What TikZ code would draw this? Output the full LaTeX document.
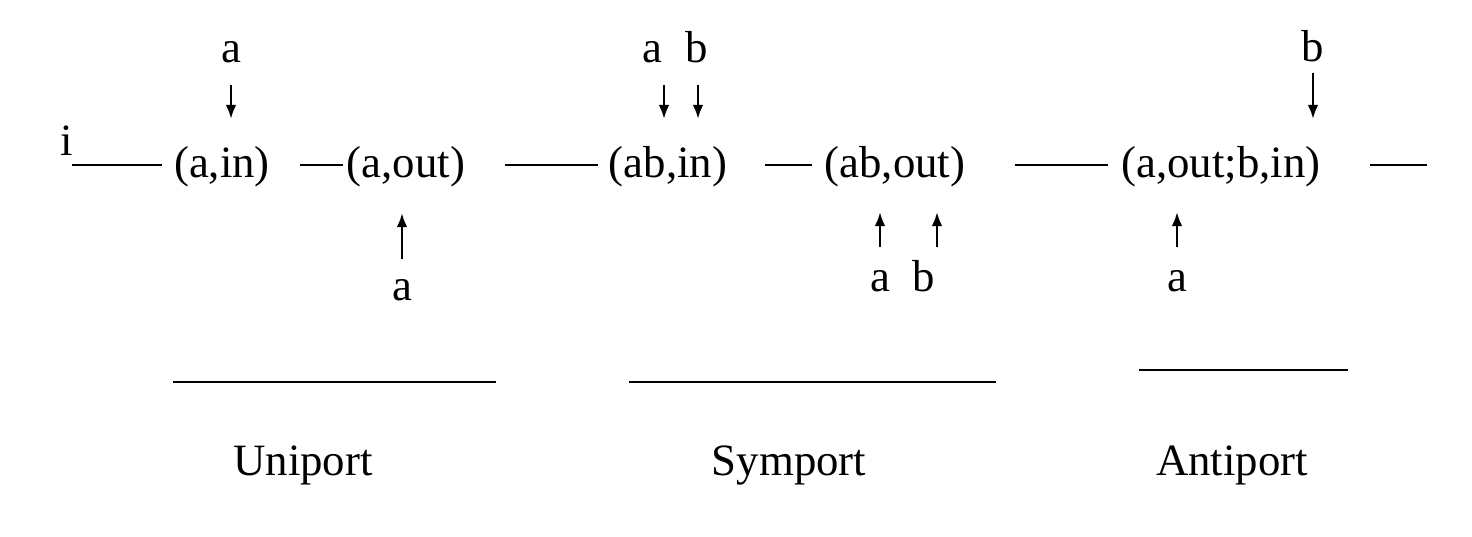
\documentclass[tikz,border=0pt]{standalone}
\usepackage{fontspec}
\setmainfont{Liberation Serif}
\usetikzlibrary{arrows.meta}
\begin{document}
\begin{tikzpicture}[x=0.02cm,y=-0.02cm,
  font=\fontsize{25.5}{30}\selectfont,
  txt/.style={anchor=base,inner sep=0pt},
  wire/.style={line width=1.1pt},
  flow/.style={line width=1.4pt,-{Latex[length=8pt,width=6pt]}}]
  \useasboundingbox (0,0) rectangle (1472,537);
  % the chain of states
  \node[txt] (i) at (67,155) {i};
  \node[txt] (ain) at (222,177) {(a,in)};
  \node[txt] (aout) at (406,177) {(a,out)};
  \node[txt] (abin) at (668,177) {(ab,in)};
  \node[txt] (about) at (895,177) {(ab,out)};
  \node[txt] (anti) at (1221,177) {(a,out;b,in)};
  \coordinate (w1a) at (72,165);   \coordinate (w1b) at (162,165);
  \coordinate (w2a) at (300,165);  \coordinate (w2b) at (343,165);
  \coordinate (w3a) at (505,165);  \coordinate (w3b) at (598,165);
  \coordinate (w4a) at (765,165);  \coordinate (w4b) at (812,165);
  \coordinate (w5a) at (1015,165); \coordinate (w5b) at (1108,165);
  \coordinate (w6a) at (1370,165); \coordinate (w6b) at (1427,165);
  \foreach \n in {1,...,6}
    \draw[wire] (w\n a) -- (w\n b);
  % uniport
  \node[txt] (ua) at (231,63) {a};
  \coordinate (ua1) at (231,85);  \coordinate (ua2) at (231,119);
  \draw[flow] (ua1) -- (ua2);
  \node[txt] (ub) at (402,300) {a};
  \coordinate (ub1) at (402,259); \coordinate (ub2) at (402,213);
  \draw[flow] (ub1) -- (ub2);
  % symport
  \node[txt] (sa) at (652,63) {a};
  \node[txt] (sb) at (697,63) {b};
  \coordinate (sa1) at (664,85);  \coordinate (sa2) at (664,119);
  \coordinate (sb1) at (698,85);  \coordinate (sb2) at (698,119);
  \draw[flow] (sa1) -- (sa2);
  \draw[flow] (sb1) -- (sb2);
  \node[txt] (sc) at (880,292) {a};
  \node[txt] (sd) at (924,292) {b};
  \coordinate (sc1) at (880,247); \coordinate (sc2) at (880,212);
  \coordinate (sd1) at (937,247); \coordinate (sd2) at (937,212);
  \draw[flow] (sc1) -- (sc2);
  \draw[flow] (sd1) -- (sd2);
  % antiport
  \node[txt] (tb) at (1313,62) {b};
  \coordinate (tb1) at (1313,73);  \coordinate (tb2) at (1313,119);
  \draw[flow] (tb1) -- (tb2);
  \node[txt] (ta) at (1177,292) {a};
  \coordinate (ta1) at (1177,247); \coordinate (ta2) at (1177,212);
  \draw[flow] (ta1) -- (ta2);
  % names
  \coordinate (un1) at (173,382);  \coordinate (un2) at (496,382);
  \coordinate (sy1) at (629,382);  \coordinate (sy2) at (996,382);
  \coordinate (an1) at (1139,370); \coordinate (an2) at (1348,370);
  \draw[wire] (un1) -- (un2);
  \draw[wire] (sy1) -- (sy2);
  \draw[wire] (an1) -- (an2);
  \node[txt] (uni) at (303,475) {Uniport};
  \node[txt] (sym) at (789,475) {Symport};
  \node[txt] (ant) at (1232,475) {Antiport};
\end{tikzpicture}
\end{document}
